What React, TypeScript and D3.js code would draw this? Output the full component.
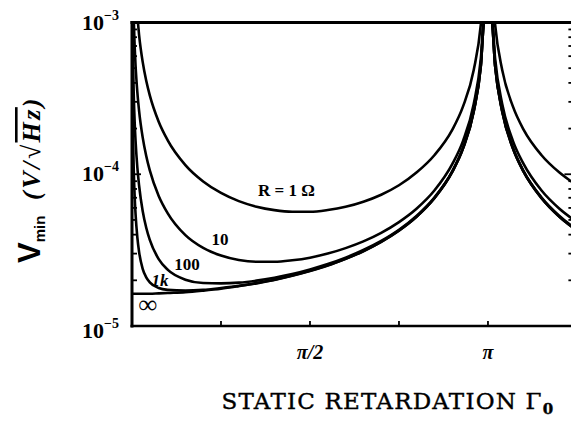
import React from 'react';
import * as d3 from 'd3';

// Static retardation Γ0, in units of π
const retardation = [
  0.0005, 0.001, 0.002, 0.003, 0.005, 0.0075, 0.01, 0.015, 0.02, 0.03, 0.04, 0.05,
  0.075, 0.1, 0.15, 0.2, 0.25, 0.3, 0.35, 0.4, 0.45, 0.5, 0.55, 0.6, 0.65, 0.7,
  0.75, 0.8, 0.85, 0.9, 0.93, 0.96, 0.98, 0.99, 1.01, 1.02, 1.04, 1.07, 1.1, 1.15,
  1.2, 1.25,
];

// Minimum detectable signal V_min (V/√Hz) for each load resistance
const vR1 = [
  null, null, null, null, null, null, null, 1.1e-3, 8.24e-4, 5.5e-4, 4.13e-4, 3.31e-4,
  2.22e-4, 1.68e-4, 1.15e-4, 8.97e-5, 7.53e-5, 6.65e-5, 6.11e-5, 5.8e-5, 5.66e-5, 5.66e-5, 5.81e-5, 6.1e-5, 6.59e-5, 7.33e-5,
  8.46e-5, 1.03e-4, 1.34e-4, 1.97e-4, 2.8e-4, 4.87e-4, 9.73e-4, 1.95e-3, 1.95e-3, 9.73e-4, 4.87e-4, 2.8e-4, 1.97e-4, 1.34e-4,
  1.03e-4, 8.46e-5,
];
const vR10 = [
  null, null, null, null, 1.04e-3, 6.95e-4, 5.21e-4, 3.48e-4, 2.61e-4, 1.75e-4, 1.32e-4, 1.06e-4,
  7.2e-5, 5.55e-5, 3.97e-5, 3.27e-5, 2.91e-5, 2.72e-5, 2.65e-5, 2.65e-5, 2.71e-5, 2.82e-5, 3.0e-5, 3.26e-5, 3.61e-5, 4.11e-5,
  4.84e-5, 5.95e-5, 7.84e-5, 1.17e-4, 1.66e-4, 2.9e-4, 5.8e-4, 1.16e-3, 1.16e-3, 5.8e-4, 2.9e-4, 1.66e-4, 1.17e-4, 7.84e-5,
  5.95e-5, 4.84e-5,
];
const vR100 = [
  null, 1.65e-3, 8.24e-4, 5.49e-4, 3.3e-4, 2.2e-4, 1.66e-4, 1.11e-4, 8.4e-5, 5.73e-5, 4.44e-5, 3.69e-5,
  2.76e-5, 2.35e-5, 2.02e-5, 1.92e-5, 1.91e-5, 1.93e-5, 1.99e-5, 2.08e-5, 2.2e-5, 2.36e-5, 2.56e-5, 2.82e-5, 3.17e-5, 3.64e-5,
  4.31e-5, 5.34e-5, 7.06e-5, 1.05e-4, 1.5e-4, 2.62e-4, 5.24e-4, 1.05e-3, 1.05e-3, 5.24e-4, 2.62e-4, 1.5e-4, 1.05e-4, 7.06e-5,
  5.34e-5, 4.31e-5,
];
const vR1k = [
  1.04e-3, 5.21e-4, 2.61e-4, 1.74e-4, 1.05e-4, 7.13e-5, 5.46e-5, 3.84e-5, 3.07e-5, 2.38e-5, 2.09e-5, 1.94e-5,
  1.78e-5, 1.73e-5, 1.71e-5, 1.73e-5, 1.78e-5, 1.84e-5, 1.92e-5, 2.02e-5, 2.15e-5, 2.31e-5, 2.51e-5, 2.77e-5, 3.12e-5, 3.59e-5,
  4.26e-5, 5.27e-5, 6.98e-5, 1.04e-4, 1.48e-4, 2.59e-4, 5.18e-4, 1.04e-3, 1.04e-3, 5.18e-4, 2.59e-4, 1.48e-4, 1.04e-4, 6.98e-5,
  5.27e-5, 4.26e-5,
];
const vRinf = [
  1.63e-5, 1.63e-5, 1.63e-5, 1.63e-5, 1.63e-5, 1.63e-5, 1.63e-5, 1.63e-5, 1.63e-5, 1.63e-5, 1.63e-5, 1.63e-5,
  1.64e-5, 1.65e-5, 1.67e-5, 1.71e-5, 1.76e-5, 1.83e-5, 1.91e-5, 2.01e-5, 2.14e-5, 2.3e-5, 2.5e-5, 2.77e-5, 3.11e-5, 3.58e-5,
  4.25e-5, 5.26e-5, 6.97e-5, 1.04e-4, 1.48e-4, 2.59e-4, 5.18e-4, 1.04e-3, 1.04e-3, 5.18e-4, 2.59e-4, 1.48e-4, 1.04e-4, 6.97e-5,
  5.26e-5, 4.25e-5,
];

const seriesList = [vR1, vR10, vR100, vR1k, vRinf];

// Curve annotations, placed in data coordinates (Γ0/π, V)
const curveLabelText = ['R = 1 Ω', '10', '100', '1k', '∞'];
const curveLabelAt: [number, number][] = [
  [0.434, 7.19e-5],
  [0.247, 3.42e-5],
  [0.1545, 2.34e-5],
  [0.079, 1.83e-5],
  [0.044, 1.22e-5],
];
const curveLabelStyle = ['normal', 'normal', 'normal', 'italic', 'normal'];

// Axis ticks
const xTickValues = [0.25, 0.5, 0.75, 1];
const xTickLabels = [
  { at: 0.5, text: 'π/2' },
  { at: 1, text: 'π' },
];
const yTickLabels = [
  { at: 1e-3, exp: '−3', dy: 7.5 },
  { at: 1e-4, exp: '−4', dy: 7 },
  { at: 1e-5, exp: '−5', dy: 12 },
];

export default function App() {
  const width = 571;
  const height = 421;
  const x = d3.scaleLinear().domain([0, 1.24]).range([132, 573.4]);
  const y = d3.scaleLog().domain([1e-5, 1e-3]).range([326, 22.5]);
  const [x0, x1] = x.range();
  const [yb, yt] = y.range();

  const line = d3
    .line<[number, number | null]>()
    .defined((d) => d[1] != null)
    .x((d) => x(d[0]))
    .y((d) => y(d[1] as number))
    .curve(d3.curveMonotoneX);

  const yTicks = y.ticks().filter((t) => t > 1e-5 * 1.001 && t < 1e-3 * 0.999);
  const isMajor = (t: number) => Math.abs(Math.log10(t) - Math.round(Math.log10(t))) < 1e-6;

  const boldFont = '"Liberation Serif", "DejaVu Serif", serif';

  return (
    <svg
      width={width}
      height={height}
      viewBox={`0 0 ${width} ${height}`}
      style={{ position: 'absolute', left: 0, top: 0, background: '#fff' }}
    >
      <rect x={0} y={0} width={width} height={height} fill="#fff" />
      <defs>
        <clipPath id="plot-area">
          <rect x={x0} y={yt} width={x1 - x0} height={yb - yt} />
        </clipPath>
      </defs>

      {/* curves */}
      <g clipPath="url(#plot-area)" fill="none" stroke="#000" strokeWidth={2.6} strokeLinejoin="round">
        {seriesList.map((vals, i) => (
          <path key={i} d={line(retardation.map((g, j) => [g, vals[j]] as [number, number | null])) || ''} />
        ))}
      </g>

      {/* frame */}
      <g stroke="#000" fill="none">
        <line x1={x0} x2={x0} y1={yt - 1.5} y2={yb + 1.5} strokeWidth={3} />
        <line x1={x0 - 1.5} x2={x1} y1={yt} y2={yt} strokeWidth={3} />
        <line x1={x0 - 1.5} x2={x1} y1={yb} y2={yb} strokeWidth={2.6} />
        <line x1={x1} x2={x1} y1={yt} y2={yb} strokeWidth={3} />
      </g>

      {/* y ticks, left and right */}
      <g stroke="#000" strokeWidth={1.8}>
        {yTicks.map((t, i) => {
          const len = isMajor(t) ? 9 : 5;
          return (
            <g key={i}>
              <line x1={x0} x2={x0 + len} y1={y(t)} y2={y(t)} />
              <line x1={x1} x2={x1 - len} y1={y(t)} y2={y(t)} />
            </g>
          );
        })}
      </g>

      {/* x ticks */}
      <g stroke="#000" strokeWidth={1.8}>
        {xTickValues.map((t, i) => (
          <line key={i} x1={x(t)} x2={x(t)} y1={yb} y2={yb - 5} />
        ))}
      </g>

      {/* y tick labels */}
      <g fontFamily={boldFont} fontWeight="bold" fill="#000">
        {yTickLabels.map((d, i) => (
          <text key={i} x={119} y={y(d.at) + d.dy} textAnchor="end" fontSize={22}>
            10
            <tspan dy={-10} fontSize={14}>
              {d.exp}
            </tspan>
          </text>
        ))}
      </g>

      {/* x tick labels */}
      <g fontFamily={boldFont} fontWeight="bold" fontStyle="italic" fill="#000">
        {xTickLabels.map((d, i) => (
          <text key={i} x={x(d.at)} y={359} textAnchor="middle" fontSize={20}>
            {d.text}
          </text>
        ))}
      </g>

      {/* curve labels */}
      <g fontFamily={boldFont} fontWeight="bold" fill="#000">
        {curveLabelText.map((t, i) => (
          <text
            key={i}
            x={x(curveLabelAt[i][0])}
            y={y(curveLabelAt[i][1])}
            textAnchor="middle"
            fontSize={i === 4 ? 26 : 17}
            fontStyle={curveLabelStyle[i]}
          >
            {t}
          </text>
        ))}
      </g>

      {/* y axis title */}
      <g transform="translate(40,263) rotate(-90)" fontFamily='"Liberation Sans", Arial, sans-serif' fontWeight="bold" fill="#000">
        <text x={0} y={0} fontSize={31}>
          V
          <tspan dy={5} fontSize={15}>
            min
          </tspan>
        </text>
      </g>
      <g transform="translate(40,200) rotate(-90)" fontFamily={boldFont} fontWeight="bold" fontStyle="italic" fill="#000">
        <text x={0} y={0} fontSize={26} letterSpacing={2.5}>
          (V/√<tspan textDecoration="overline">Hz</tspan>)
        </text>
      </g>

      {/* x axis title */}
      <text
        x={388}
        y={409}
        textAnchor="middle"
        fontFamily='"DejaVu Serif", serif'
        fontSize={23}
        letterSpacing={1.2}
        fill="#000"
        stroke="#000"
        strokeWidth={0.4}
      >
        STATIC RETARDATION Γ<tspan dy={5} fontSize={15} fontWeight="bold">0</tspan>
      </text>
    </svg>
  );
}
